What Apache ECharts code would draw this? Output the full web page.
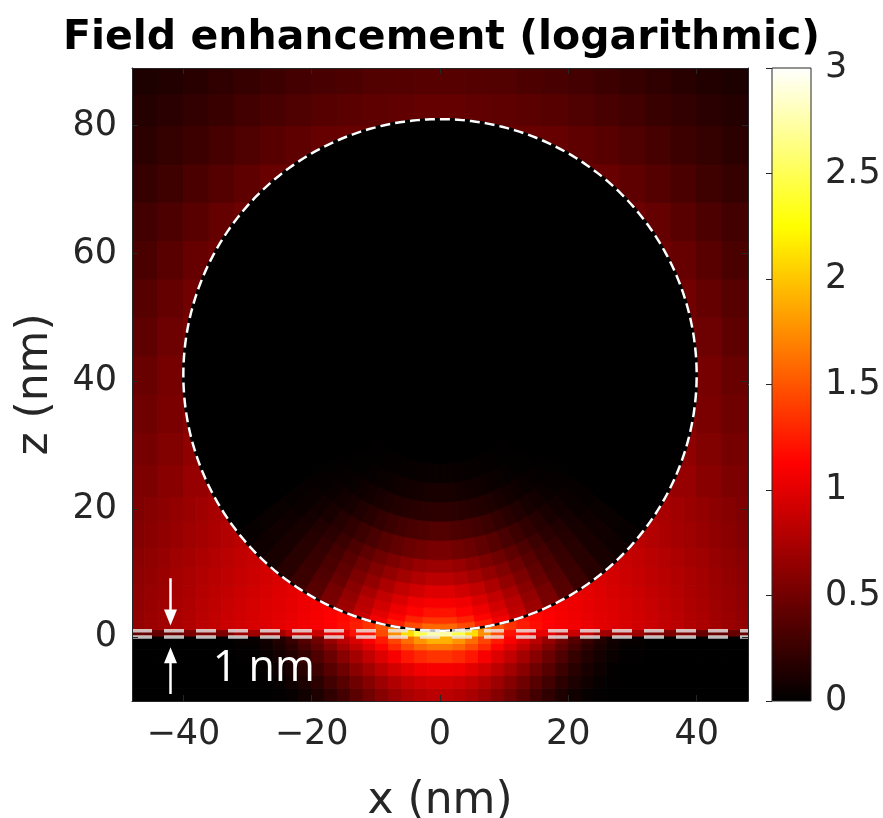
<!DOCTYPE html>
<html>
<head>
<meta charset="utf-8">
<title>Field enhancement</title>
<script src="https://cdn.jsdelivr.net/npm/echarts@6/dist/echarts.min.js"></script>
<style>
  html, body { margin: 0; padding: 0; background: #ffffff; }
  #chart { width: 883px; height: 818px; }
</style>
</head>
<body>
<div id="chart"></div>
<script>
// simulation window (nm) and ticks
var xRange = [-48, 48];
var zRange = [-10, 89];
var xTicks = [-40, -20, 0, 20, 40];
var zTicks = [0, 20, 40, 60, 80];
var cbarRange = [0, 3];

// MATLAB "hot" colormap, evenly spaced stops
var hotStops = ['#000000', '#550000', '#aa0000', '#ff0000', '#ff5500', '#ffaa00', '#ffff00', '#ffff80', '#ffffff'];

// sphere of radius 40 nm sitting 1 nm above the substrate
var sphereCenter = [0, 41];
var sphereRadius = 40;
var sphereInterior = 0;
var interfaceZ = [0, 1];

// log10 field enhancement (cells hidden by the sphere are 0)
// air just above the gap, 2 nm columns, rows from z = 1 upwards
var airLowXEdges = [-48, -46, -44, -42, -40, -38, -36, -34, -32, -30, -28, -26, -24, -22, -20, -18, -16, -14, -12, -10, -8, -6, -4, -2, 0,
    2, 4, 6, 8, 10, 12, 14, 16, 18, 20, 22, 24, 26, 28, 30, 32, 34, 36, 38, 40, 42, 44, 46, 48];
var airLowZEdges = [1, 2.5, 4, 6, 8, 11, 14, 18, 22];
var airLowField = [
    [0.65, 0.68, 0.71, 0.75, 0.78, 0.82, 0.85, 0.89, 0.92, 0.95, 0.98, 1.01, 1.04, 1.07, 1.10, 1.13, 1.18, 1.25, 1.35, 1.50, 1.70, 1.88, 2.00, 2.10,
     2.10, 2.00, 1.88, 1.70, 1.50, 1.35, 1.25, 1.18, 1.13, 1.10, 1.07, 1.04, 1.01, 0.98, 0.95, 0.92, 0.89, 0.85, 0.82, 0.78, 0.75, 0.71, 0.68, 0.65],
    [0.65, 0.68, 0.71, 0.75, 0.78, 0.82, 0.85, 0.89, 0.92, 0.95, 0.98, 1.00, 1.03, 1.06, 1.09, 1.12, 1.16, 1.22, 1.30, 0, 0, 0, 0, 0,
     0, 0, 0, 0, 0, 1.30, 1.22, 1.16, 1.12, 1.09, 1.06, 1.03, 1.00, 0.98, 0.95, 0.92, 0.89, 0.85, 0.82, 0.78, 0.75, 0.71, 0.68, 0.65],
    [0.64, 0.67, 0.70, 0.74, 0.77, 0.81, 0.84, 0.88, 0.91, 0.94, 0.97, 0.99, 1.02, 1.05, 1.08, 1.11, 1.14, 0, 0, 0, 0, 0, 0, 0,
     0, 0, 0, 0, 0, 0, 0, 1.14, 1.11, 1.08, 1.05, 1.02, 0.99, 0.97, 0.94, 0.91, 0.88, 0.84, 0.81, 0.77, 0.74, 0.70, 0.67, 0.64],
    [0.63, 0.66, 0.69, 0.73, 0.76, 0.80, 0.83, 0.86, 0.89, 0.92, 0.95, 0.98, 1.01, 1.04, 1.06, 0, 0, 0, 0, 0, 0, 0, 0, 0,
     0, 0, 0, 0, 0, 0, 0, 0, 0, 1.06, 1.04, 1.01, 0.98, 0.95, 0.92, 0.89, 0.86, 0.83, 0.80, 0.76, 0.73, 0.69, 0.66, 0.63],
    [0.62, 0.65, 0.68, 0.72, 0.75, 0.78, 0.81, 0.84, 0.87, 0.90, 0.93, 0.96, 0.99, 0, 0, 0, 0, 0, 0, 0, 0, 0, 0, 0,
     0, 0, 0, 0, 0, 0, 0, 0, 0, 0, 0, 0.99, 0.96, 0.93, 0.90, 0.87, 0.84, 0.81, 0.78, 0.75, 0.72, 0.68, 0.65, 0.62],
    [0.60, 0.63, 0.66, 0.70, 0.73, 0.76, 0.79, 0.82, 0.85, 0.88, 0.91, 0, 0, 0, 0, 0, 0, 0, 0, 0, 0, 0, 0, 0,
     0, 0, 0, 0, 0, 0, 0, 0, 0, 0, 0, 0, 0, 0.91, 0.88, 0.85, 0.82, 0.79, 0.76, 0.73, 0.70, 0.66, 0.63, 0.60],
    [0.58, 0.61, 0.64, 0.67, 0.70, 0.73, 0.76, 0.79, 0.82, 0.85, 0, 0, 0, 0, 0, 0, 0, 0, 0, 0, 0, 0, 0, 0,
     0, 0, 0, 0, 0, 0, 0, 0, 0, 0, 0, 0, 0, 0, 0.85, 0.82, 0.79, 0.76, 0.73, 0.70, 0.67, 0.64, 0.61, 0.58],
    [0.56, 0.59, 0.62, 0.65, 0.68, 0.71, 0.74, 0.77, 0, 0, 0, 0, 0, 0, 0, 0, 0, 0, 0, 0, 0, 0, 0, 0,
     0, 0, 0, 0, 0, 0, 0, 0, 0, 0, 0, 0, 0, 0, 0, 0, 0.77, 0.74, 0.71, 0.68, 0.65, 0.62, 0.59, 0.56]
];

// air higher up, 4 nm columns
var airHighXEdges = [-48, -44, -40, -36, -32, -28, -24, -20, -16, -12, -8, -4, 0, 4, 8, 12, 16, 20, 24, 28, 32, 36, 40, 44, 48];
var airHighZEdges = [22, 27, 32, 38, 44, 50, 56, 62, 68, 74, 80, 85, 89];
var airHighField = [
    [0.55, 0.60, 0.66, 0.72, 0, 0, 0, 0, 0, 0, 0, 0, 0, 0, 0, 0, 0, 0, 0, 0, 0.72, 0.66, 0.60, 0.55],
    [0.52, 0.57, 0.63, 0, 0, 0, 0, 0, 0, 0, 0, 0, 0, 0, 0, 0, 0, 0, 0, 0, 0, 0.63, 0.57, 0.52],
    [0.49, 0.54, 0.60, 0, 0, 0, 0, 0, 0, 0, 0, 0, 0, 0, 0, 0, 0, 0, 0, 0, 0, 0.60, 0.54, 0.49],
    [0.46, 0.52, 0.57, 0, 0, 0, 0, 0, 0, 0, 0, 0, 0, 0, 0, 0, 0, 0, 0, 0, 0, 0.57, 0.52, 0.46],
    [0.42, 0.48, 0.54, 0, 0, 0, 0, 0, 0, 0, 0, 0, 0, 0, 0, 0, 0, 0, 0, 0, 0, 0.54, 0.48, 0.42],
    [0.38, 0.44, 0.50, 0, 0, 0, 0, 0, 0, 0, 0, 0, 0, 0, 0, 0, 0, 0, 0, 0, 0, 0.50, 0.44, 0.38],
    [0.33, 0.39, 0.45, 0.49, 0, 0, 0, 0, 0, 0, 0, 0, 0, 0, 0, 0, 0, 0, 0, 0, 0.49, 0.45, 0.39, 0.33],
    [0.29, 0.34, 0.39, 0.44, 0.48, 0, 0, 0, 0, 0, 0, 0, 0, 0, 0, 0, 0, 0, 0, 0.48, 0.44, 0.39, 0.34, 0.29],
    [0.24, 0.28, 0.33, 0.37, 0.42, 0.46, 0.47, 0, 0, 0, 0, 0, 0, 0, 0, 0, 0, 0.47, 0.46, 0.42, 0.37, 0.33, 0.28, 0.24],
    [0.20, 0.23, 0.27, 0.31, 0.35, 0.39, 0.42, 0.45, 0.46, 0.46, 0, 0, 0, 0, 0.46, 0.46, 0.45, 0.42, 0.39, 0.35, 0.31, 0.27, 0.23, 0.20],
    [0.16, 0.19, 0.22, 0.25, 0.29, 0.32, 0.35, 0.38, 0.40, 0.42, 0.43, 0.44, 0.44, 0.43, 0.42, 0.40, 0.38, 0.35, 0.32, 0.29, 0.25, 0.22, 0.19, 0.16],
    [0.13, 0.15, 0.18, 0.21, 0.24, 0.27, 0.30, 0.32, 0.34, 0.36, 0.37, 0.38, 0.38, 0.37, 0.36, 0.34, 0.32, 0.30, 0.27, 0.24, 0.21, 0.18, 0.15, 0.13]
];

// the 1 nm gap, 0 < z < 1
var gapXEdges = [-48, -40, -32, -24, -18, -14, -10, -8, -6, -4, -2, 0, 2, 4, 6, 8, 10, 14, 18, 24, 32, 40, 48];
var gapField = [0.45, 0.55, 0.70, 0.88, 1.02, 1.20, 1.45, 1.75, 2.10, 2.45, 2.75, 2.75, 2.45, 2.10, 1.75, 1.45, 1.20, 1.02, 0.88, 0.70, 0.55, 0.45];

// substrate, 2 nm columns near the gap, rows from z = -10 upwards
var subXEdges = [-48, -44, -40, -36, -32, -28, -26, -24, -22, -20, -18, -16, -14, -12, -10, -8, -6, -4, -2, 0,
    2, 4, 6, 8, 10, 12, 14, 16, 18, 20, 22, 24, 26, 28, 32, 36, 40, 44, 48];
var subZEdges = [-10, -8, -6, -4, -2, -1, 0];
var subField = [
    [0, 0, 0, 0, 0, 0, 0.01, 0.03, 0.07, 0.13, 0.21, 0.30, 0.40, 0.50, 0.59, 0.68, 0.75, 0.80, 0.82,
     0.82, 0.80, 0.75, 0.68, 0.59, 0.50, 0.40, 0.30, 0.21, 0.13, 0.07, 0.03, 0.01, 0, 0, 0, 0, 0, 0],
    [0, 0, 0, 0, 0, 0.01, 0.03, 0.07, 0.13, 0.20, 0.29, 0.39, 0.49, 0.59, 0.69, 0.78, 0.85, 0.90, 0.93,
     0.93, 0.90, 0.85, 0.78, 0.69, 0.59, 0.49, 0.39, 0.29, 0.20, 0.13, 0.07, 0.03, 0.01, 0, 0, 0, 0, 0],
    [0, 0, 0, 0, 0, 0.02, 0.06, 0.11, 0.18, 0.27, 0.38, 0.49, 0.61, 0.72, 0.83, 0.93, 1.01, 1.07, 1.10,
     1.10, 1.07, 1.01, 0.93, 0.83, 0.72, 0.61, 0.49, 0.38, 0.27, 0.18, 0.11, 0.06, 0.02, 0, 0, 0, 0, 0],
    [0, 0, 0, 0, 0.01, 0.04, 0.09, 0.15, 0.24, 0.35, 0.47, 0.60, 0.73, 0.86, 0.98, 1.10, 1.22, 1.30, 1.35,
     1.35, 1.30, 1.22, 1.10, 0.98, 0.86, 0.73, 0.60, 0.47, 0.35, 0.24, 0.15, 0.09, 0.04, 0.01, 0, 0, 0, 0],
    [0, 0, 0, 0, 0.02, 0.06, 0.12, 0.20, 0.31, 0.43, 0.57, 0.72, 0.86, 1.00, 1.14, 1.30, 1.45, 1.58, 1.65,
     1.65, 1.58, 1.45, 1.30, 1.14, 1.00, 0.86, 0.72, 0.57, 0.43, 0.31, 0.20, 0.12, 0.06, 0.02, 0, 0, 0, 0],
    [0, 0, 0, 0, 0.03, 0.08, 0.15, 0.25, 0.37, 0.50, 0.66, 0.82, 0.96, 1.10, 1.24, 1.42, 1.60, 1.78, 1.90,
     1.90, 1.78, 1.60, 1.42, 1.24, 1.10, 0.96, 0.82, 0.66, 0.50, 0.37, 0.25, 0.15, 0.08, 0.03, 0, 0, 0, 0]
];

// inside the sphere near the contact: rings about the sphere centre,
// angles in degrees measured from straight down
var glowRadii = [14, 17, 20, 23, 26, 29, 31, 33, 35, 36.5, 38, 39, 40];
var glowAngles = [-52, -48, -44, -40, -36, -32, -28, -24, -20, -16, -12, -8, -4, 0,
    4, 8, 12, 16, 20, 24, 28, 32, 36, 40, 44, 48, 52];
var glowField = [
    [0.005, 0.005, 0.01, 0.01, 0.015, 0.02, 0.02, 0.025, 0.03, 0.03, 0.035, 0.04, 0.04,
     0.04, 0.04, 0.035, 0.03, 0.03, 0.025, 0.02, 0.02, 0.015, 0.01, 0.01, 0.005, 0.005],
    [0.005, 0.01, 0.015, 0.02, 0.03, 0.04, 0.05, 0.06, 0.07, 0.08, 0.09, 0.10, 0.105,
     0.105, 0.10, 0.09, 0.08, 0.07, 0.06, 0.05, 0.04, 0.03, 0.02, 0.015, 0.01, 0.005],
    [0.01, 0.02, 0.03, 0.04, 0.06, 0.08, 0.11, 0.13, 0.15, 0.16, 0.18, 0.19, 0.20,
     0.20, 0.19, 0.18, 0.16, 0.15, 0.13, 0.11, 0.08, 0.06, 0.04, 0.03, 0.02, 0.01],
    [0.02, 0.03, 0.05, 0.08, 0.10, 0.14, 0.18, 0.22, 0.26, 0.29, 0.32, 0.34, 0.36,
     0.36, 0.34, 0.32, 0.29, 0.26, 0.22, 0.18, 0.14, 0.10, 0.08, 0.05, 0.03, 0.02],
    [0.03, 0.05, 0.07, 0.11, 0.16, 0.21, 0.27, 0.32, 0.38, 0.43, 0.47, 0.50, 0.53,
     0.53, 0.50, 0.47, 0.43, 0.38, 0.32, 0.27, 0.21, 0.16, 0.11, 0.07, 0.05, 0.03],
    [0.03, 0.05, 0.09, 0.14, 0.19, 0.26, 0.34, 0.42, 0.49, 0.55, 0.61, 0.66, 0.69,
     0.69, 0.66, 0.61, 0.55, 0.49, 0.42, 0.34, 0.26, 0.19, 0.14, 0.09, 0.05, 0.03],
    [0.04, 0.06, 0.10, 0.16, 0.22, 0.30, 0.39, 0.48, 0.57, 0.65, 0.72, 0.78, 0.82,
     0.82, 0.78, 0.72, 0.65, 0.57, 0.48, 0.39, 0.30, 0.22, 0.16, 0.10, 0.06, 0.04],
    [0.04, 0.07, 0.11, 0.17, 0.24, 0.33, 0.43, 0.55, 0.65, 0.76, 0.85, 0.92, 0.98,
     0.98, 0.92, 0.85, 0.76, 0.65, 0.55, 0.43, 0.33, 0.24, 0.17, 0.11, 0.07, 0.04],
    [0.04, 0.07, 0.11, 0.17, 0.25, 0.35, 0.46, 0.60, 0.74, 0.86, 0.96, 1.06, 1.10,
     1.10, 1.06, 0.96, 0.86, 0.74, 0.60, 0.46, 0.35, 0.25, 0.17, 0.11, 0.07, 0.04],
    [0.03, 0.06, 0.11, 0.18, 0.26, 0.37, 0.51, 0.65, 0.81, 0.93, 1.05, 1.14, 1.21,
     1.21, 1.14, 1.05, 0.93, 0.81, 0.65, 0.51, 0.37, 0.26, 0.18, 0.11, 0.06, 0.03],
    [0.03, 0.06, 0.11, 0.17, 0.26, 0.38, 0.53, 0.69, 0.84, 1.00, 1.14, 1.27, 1.36,
     1.36, 1.27, 1.14, 1.00, 0.84, 0.69, 0.53, 0.38, 0.26, 0.17, 0.11, 0.06, 0.03],
    [0.03, 0.06, 0.10, 0.17, 0.26, 0.39, 0.54, 0.70, 0.89, 1.08, 1.26, 1.45, 1.58,
     1.58, 1.45, 1.26, 1.08, 0.89, 0.70, 0.54, 0.39, 0.26, 0.17, 0.10, 0.06, 0.03]
];

// annotation: arrows [x, z from, z to] and the gap label [x, z, text]
var gapArrows = [[-42, 9.2, 1.8], [-42, -8.9, -1.6]];
var gapLabel = [[-35.4, -4.9, '1 nm']];

var textColor = '#262626';
var axisFont = 'DejaVu Sans';

function addBlock(out, xEdges, zEdges, rows) {
    for (var j = 0; j < rows.length; ++j) {
        for (var i = 0; i < rows[j].length; ++i) {
            out.push([xEdges[i], xEdges[i + 1], zEdges[j], zEdges[j + 1], rows[j][i]]);
        }
    }
}

var cells = [];
addBlock(cells, airLowXEdges, airLowZEdges, airLowField);
addBlock(cells, airHighXEdges, airHighZEdges, airHighField);
addBlock(cells, gapXEdges, interfaceZ, [gapField]);
addBlock(cells, subXEdges, subZEdges, subField);

var glowCells = [];
for (var j = 0; j < glowField.length; ++j) {
    for (var i = 0; i < glowField[j].length; ++i) {
        glowCells.push([glowRadii[j], glowRadii[j + 1], glowAngles[i], glowAngles[i + 1], glowField[j][i]]);
    }
}

// point on a circle about the sphere centre, angle from straight down
function polar(r, deg) {
    var a = deg * Math.PI / 180;
    return [sphereCenter[0] + r * Math.sin(a), sphereCenter[1] - r * Math.cos(a)];
}

function circlePoints(api, r) {
    var pts = [];
    for (var k = 0; k < 360; ++k) {
        pts.push(api.coord(polar(r, k)));
    }
    return pts;
}

function renderCell(params, api) {
    var p0 = api.coord([api.value(0), api.value(3)]);
    var p1 = api.coord([api.value(1), api.value(2)]);
    var color = api.visual('color');
    return {
        type: 'rect',
        shape: { x: p0[0], y: p0[1], width: p1[0] - p0[0], height: p1[1] - p0[1] },
        style: { fill: color, stroke: color, lineWidth: 1 }
    };
}

function renderSphere(params, api) {
    var color = api.visual('color');
    return {
        type: 'polygon',
        shape: { points: circlePoints(api, api.value(2)) },
        style: { fill: color, stroke: color, lineWidth: 1 }
    };
}

function renderGlow(params, api) {
    var r0 = api.value(0), r1 = api.value(1), a0 = api.value(2), a1 = api.value(3);
    var steps = 4, pts = [], k;
    for (k = 0; k <= steps; ++k) {
        pts.push(api.coord(polar(r1, a0 + (a1 - a0) * k / steps)));
    }
    for (k = steps; k >= 0; --k) {
        pts.push(api.coord(polar(r0, a0 + (a1 - a0) * k / steps)));
    }
    var color = api.visual('color');
    return {
        type: 'polygon',
        shape: { points: pts },
        style: { fill: color, stroke: color, lineWidth: 0.8 }
    };
}

function renderOutline(params, api) {
    var pts = circlePoints(api, sphereRadius);
    return {
        type: 'group',
        children: [
            { type: 'polygon', shape: { points: pts }, style: { fill: null, stroke: '#000', lineWidth: 2.5 } },
            { type: 'polygon', shape: { points: pts }, style: { fill: null, stroke: '#fff', lineWidth: 2.5, lineDash: [10, 5] } }
        ]
    };
}

function renderInterface(params, api) {
    var p0 = api.coord([xRange[0], api.value(0)]);
    var p1 = api.coord([xRange[1], api.value(0)]);
    return {
        type: 'line',
        shape: { x1: p0[0], y1: p0[1], x2: p1[0], y2: p1[1] },
        style: { stroke: 'rgba(235,235,235,0.8)', lineWidth: 3.5, lineDash: [20, 12] }
    };
}

function renderArrow(params, api) {
    var p0 = api.coord([api.value(0), api.value(1)]);
    var p1 = api.coord([api.value(0), api.value(2)]);
    var dir = p1[1] > p0[1] ? 1 : -1;
    var headLen = 16, headHalf = 6.5;
    return {
        type: 'group',
        children: [
            { type: 'line', shape: { x1: p0[0], y1: p0[1], x2: p1[0], y2: p1[1] - dir * (headLen - 2) },
              style: { stroke: '#fff', lineWidth: 2.5 } },
            { type: 'polygon', shape: { points: [[p1[0], p1[1]], [p1[0] - headHalf, p1[1] - dir * headLen], [p1[0] + headHalf, p1[1] - dir * headLen]] },
              style: { fill: '#fff' } }
        ]
    };
}

function renderLabel(params, api) {
    var p = api.coord([api.value(0), api.value(1)]);
    return {
        type: 'text',
        x: p[0],
        y: p[1],
        style: { text: gapLabel[params.dataIndex][2], fill: '#fff', font: '43px "Open Sans"', align: 'left', verticalAlign: 'middle' }
    };
}

function renderColorbar(params, api) {
    var p0 = api.coord([api.value(0), api.value(3)]);
    var p1 = api.coord([api.value(1), api.value(2)]);
    var stops = hotStops.map(function (c, i) {
        return { offset: i / (hotStops.length - 1), color: c };
    });
    return {
        type: 'rect',
        shape: { x: p0[0], y: p0[1], width: p1[0] - p0[0], height: p1[1] - p0[1] },
        style: { fill: new echarts.graphic.LinearGradient(0, 1, 0, 0, stops), stroke: textColor, lineWidth: 1 }
    };
}

var minus = function (v) {
    return String(v).replace('-', '\u2212');
};

var tickLabel = { fontFamily: axisFont, fontSize: 35, color: textColor };
var frameLine = { show: true, onZero: false, lineStyle: { color: textColor, width: 1 } };
var inTick = { inside: true, length: 6, lineStyle: { color: textColor } };

var option = {
    animation: false,
    title: {
        text: 'Field enhancement (logarithmic)',
        left: 'center',
        top: 13,
        textStyle: { fontFamily: axisFont, fontWeight: 'bold', fontSize: 41, color: '#000' }
    },
    grid: [
        { left: 132, top: 68, width: 616, height: 633, outerBoundsMode: 'none' },
        { left: 772, top: 68, width: 39, height: 633, outerBoundsMode: 'none' }
    ],
    xAxis: [
        {
            gridIndex: 0, type: 'value', min: xRange[0], max: xRange[1], z: 10,
            name: 'x (nm)', nameLocation: 'middle', nameGap: 79,
            nameTextStyle: { fontFamily: axisFont, fontSize: 44, color: textColor },
            axisLine: frameLine,
            axisTick: Object.assign({ customValues: xTicks }, inTick),
            axisLabel: Object.assign({ customValues: xTicks, margin: 16, formatter: minus }, tickLabel),
            splitLine: { show: false }
        },
        {
            gridIndex: 0, type: 'value', position: 'top', min: xRange[0], max: xRange[1], z: 10,
            axisLine: frameLine,
            axisTick: Object.assign({ customValues: xTicks }, inTick),
            axisLabel: { show: false },
            splitLine: { show: false }
        },
        {
            gridIndex: 1, type: 'value', min: 0, max: 1, show: false
        }
    ],
    yAxis: [
        {
            gridIndex: 0, type: 'value', min: zRange[0], max: zRange[1], z: 10,
            name: 'z (nm)', nameLocation: 'middle', nameGap: 74,
            nameTextStyle: { fontFamily: axisFont, fontSize: 44, color: textColor },
            axisLine: frameLine,
            axisTick: Object.assign({ customValues: zTicks }, inTick),
            axisLabel: Object.assign({ customValues: zTicks, margin: 15, formatter: minus }, tickLabel),
            splitLine: { show: false }
        },
        {
            gridIndex: 0, type: 'value', position: 'right', min: zRange[0], max: zRange[1], z: 10,
            axisLine: frameLine,
            axisTick: Object.assign({ customValues: zTicks }, inTick),
            axisLabel: { show: false },
            splitLine: { show: false }
        },
        {
            gridIndex: 1, type: 'value', position: 'right', min: cbarRange[0], max: cbarRange[1], interval: 0.5, z: 10,
            axisLine: { show: false },
            axisTick: inTick,
            axisLabel: Object.assign({ margin: 14 }, tickLabel),
            splitLine: { show: false }
        }
    ],
    visualMap: {
        type: 'continuous',
        show: false,
        min: cbarRange[0],
        max: cbarRange[1],
        dimension: 4,
        seriesIndex: [0, 1, 2],
        inRange: { color: hotStops }
    },
    series: [
        { type: 'custom', name: 'field', xAxisIndex: 0, yAxisIndex: 0, clip: true, silent: true,
          renderItem: renderCell, data: cells },
        { type: 'custom', name: 'sphere', xAxisIndex: 0, yAxisIndex: 0, clip: true, silent: true,
          renderItem: renderSphere, data: [[sphereCenter[0], sphereCenter[1], sphereRadius, 0, sphereInterior]] },
        { type: 'custom', name: 'contact glow', xAxisIndex: 0, yAxisIndex: 0, clip: true, silent: true,
          renderItem: renderGlow, data: glowCells },
        { type: 'custom', name: 'outline', xAxisIndex: 0, yAxisIndex: 0, clip: true, silent: true,
          renderItem: renderOutline, data: [[sphereCenter[0], sphereCenter[1]]] },
        { type: 'custom', name: 'interfaces', xAxisIndex: 0, yAxisIndex: 0, clip: true, silent: true,
          renderItem: renderInterface, data: interfaceZ.map(function (z) { return [z]; }) },
        { type: 'custom', name: 'arrows', xAxisIndex: 0, yAxisIndex: 0, clip: true, silent: true,
          renderItem: renderArrow, data: gapArrows },
        { type: 'custom', name: 'label', xAxisIndex: 0, yAxisIndex: 0, silent: true,
          renderItem: renderLabel, data: gapLabel.map(function (d) { return [d[0], d[1]]; }) },
        { type: 'custom', name: 'colorbar', xAxisIndex: 2, yAxisIndex: 2, silent: true,
          renderItem: renderColorbar, data: [[0, 1, cbarRange[0], cbarRange[1]]] }
    ]
};

echarts.init(document.getElementById('chart')).setOption(option);
</script>
</body>
</html>
